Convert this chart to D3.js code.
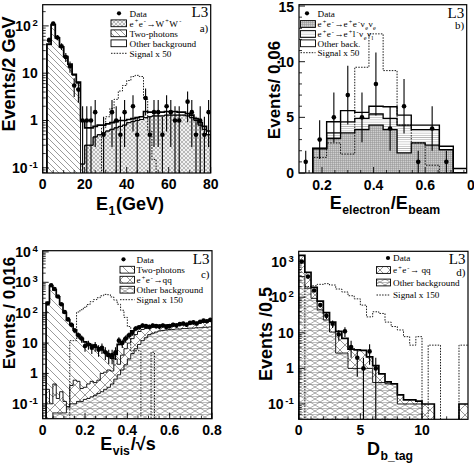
<!DOCTYPE html>
<html><head><meta charset="utf-8">
<script src="https://cdn.jsdelivr.net/npm/d3@7/dist/d3.min.js"></script>
<style>html,body{margin:0;padding:0;background:#fff}svg{display:block}</style>
</head><body>
<script>
// ================= DATA =================
// ---- panel a : E1 (GeV), 2 GeV bins ----
const aEdges = [0,2,4,6,8,10,12,14,16,18,20,22,24,26,28,30,32,34,36,38,40,42,44,46,48,50,52,54,56,58,60,62,64,66,68,70,72,74,76,78,80];
const aWW = [0,0,0,0,0,0,0,0,0,0.12,0.3,0.3,0.45,0.5,0.55,0.6,0.65,0.7,0.75,0.8,0.9,0.95,1.0,1.05,1.15,1.2,1.25,1.25,1.25,1.3,1.3,1.3,1.3,1.3,1.25,1.15,1.0,0.8,0.65,0.5];
const aTwoPhoton = [0,40,105,55,35,22,15,9,6,0,0,0,0,0,0,0,0,0,0,0,0,0,0,0,0,0,0,0,0,0,0,0,0,0,0,0,0,0,0,0];
const aOther = [0,1,2,1,1,0.5,0.5,0.5,0.5,0.88,0.4,0.4,0.3,0.3,0.25,0.25,0.25,0.25,0.25,0.2,0.15,0.15,0.15,0.15,0.4,0.3,0.25,0.25,0.25,0.25,0.25,0.25,0.2,0.2,0.15,0.15,0.1,0.1,0.1,0.1];
const aSignal = [0,0,0,0,0,0,0,0,0,0,0,0,0,0,0.7,1.2,1.8,2.8,4.2,5.5,7,8.5,9,8.5,2.8,0.6,0.15,0,0,0,0,0,0,0,0,0,0,0,0,0];
const aData = [0,50,112,57,37,22,14,5.5,4.5,1,1,1,1.5,0,0.5,0,1.5,1,0.5,1.5,0,2,0.5,0,3,0.5,1.5,1.5,0.5,2,1.5,1,1,0,2.5,1.5,0.5,1,0.5,1.5];
const aXTicks = [0,20,40,60,80];
const aYTicks = [0.1,1,10,100];
const aYLabels = ['10^{-1}','1','10','10^{2}'];

// ---- panel b : E_electron/E_beam ----
const bEdges = [0.164,0.218,0.272,0.327,0.382,0.437,0.491,0.546,0.600,0.655,0.709,0.763];
const bEeNuNu = [2.2,3.1,3.6,3.9,4.3,3.9,1.8,2.7,2.5,2.1,0];
const bElNuNu = [0,0.5,1.0,1.0,1.0,1.0,2.5,1.2,1.4,0,0];
const bOther  = [0,1.0,1.0,0.55,0.7,1.05,0.9,0.4,0.4,0.3,0.4];
const bSignal = [1.4,2.7,1.7,9.5,12.5,9.2,4.3,2.7,0.7,0,0];
const bDataX = [0.137,0.191,0.246,0.300,0.355,0.409,0.464,0.518,0.573,0.627,0.682];
const bData  = [1,3,5,7,5,8,4,6,1,4,1];
const bXTicks = [0.2,0.4,0.6,0.8];
const bYTicks = [0,5,10,15];

// ---- panel c : Evis/sqrt(s), 0.016 bins ----
const cEdges = [0,0.016,0.032,0.048,0.064,0.08,0.096,0.112,0.128,0.144,0.16,0.176,0.192,0.208,0.224,0.24,0.256,0.272,0.288,0.304,0.32,0.336,0.352,0.368,0.384,0.4,0.416,0.432,0.448,0.464,0.48,0.496,0.512,0.528,0.544,0.56,0.576,0.592,0.608,0.624,0.64,0.656,0.672,0.688,0.704,0.72,0.736,0.752,0.768,0.784,0.8];
const cOther = [0,0,0,0.05,0.05,0.05,0.05,0.08,0.1,0.1,0.12,0.12,0.14,0.15,0.17,0.19,0.22,0.25,0.3,0.35,0.45,0.65,0.9,1.3,1.9,3.0,4.5,6.5,9,12,15,19,21,23,25,26,27,28,28,29,29,30,30,31,31,32,32,33,33,34];
const cQQ = [0,0.3,0.1,0.4,0.1,0.2,0.07,0,0.3,0.5,0.43,0.2,0.21,0.3,0.38,0.31,0.38,0.75,0.8,0.95,0.75,2.35,1.1,2.7,4.6,7,9.5,12.5,15,16,15,13,12,12,10,10,9,9,9,9,10,10,11,11,12,12,14,15,17,18];
const cTwoPhoton = [0,220,750,560,330,190,100,57,39.6,26.4,18.4,13.7,10.6,9.0,8.0,7.0,6.4,5.0,3.9,2.5,2.0,1.2,7,7,7.5,8,11,11,11,8,6,5,4,3,3,3,3,3,3,3,3,3,3,3,3,3,3,3,3,3];
const cSignal = [0,0,0,0,0,0,0,0,12,12,105,125,150,185,230,270,310,360,400,390,330,260,190,120,70,35,5.6,5.6,5.6,0,0,0,5,0,0,0,0,0,0,0,0,0,0,0,0,0,0,0,0,0];
const cData = [0,200,800,600,340,190,105,60,40,26,18,14,8,9,7,8,6,7,5,4,4,5,12,10,14,18,22,30,33,38,36,34,38,36,35,38,34,36,40,38,42,44,40,46,48,44,50,55,52,58];
const cXTicks = [0,0.2,0.4,0.6,0.8];
const cXLabels = ['0','0.2','0.4','0.6','0.8'];
const cYTicks = [0.1,1,10,100,1000,10000];
const cYLabels = ['10^{-1}','1','10','10^{2}','10^{3}','10^{4}'];

// ---- panel d : D_b_tag, 0.5 bins ----
const dEdges = [0,0.5,1,1.5,2,2.5,3,3.5,4,4.5,5,5.5,6,6.5,7,7.5,8,8.5,9,9.5,10,10.5,11,11.5,12,12.5,13,13.5,14];
const dOther = [380,180,93,44,23,10.5,2.7,2.7,1.0,1.0,1.0,1.0,0.4,0.4,0.37,0.37,0.1,0.1,0.1,0.1,0,0,0,0,0,0,0,0];
const dQQ = [1120,320,97,34,14,9.5,8.3,4.3,2.5,2.3,2.2,1.1,0.8,0.3,0.05,0,0.08,0.03,0.03,0.02,0.1,0.1,0,0,0,0,0.1,0.1];
const dSignal = [0,200,210,230,240,220,170,140,110,90,60,28,39,35,20,15,12,7.8,4.5,7.8,0,4.5,4.5,0,0,0,4.5,4.5];
const dData = [1000,380,155,60,30,18,9,11,4,2,1,3,1];
const dXTicks = [0,5,10];
const dYTicks = [0.1,1,10,100,1000];
const dYLabels = ['10^{-1}','1','10','10^{2}','10^{3}'];

// ================= DRAWING =================
const SANS = "'Liberation Sans', Arial, Helvetica, sans-serif";
const SERIF = "'Liberation Serif', 'Times New Roman', Times, serif";
const LEGFS = 9.2;
const svg = d3.select('body').append('svg').attr('width',474).attr('height',464);
const defs = svg.append('defs');

function pattern(id, w, h, bg, d, stroke, sw) {
  const p = defs.append('pattern').attr('id',id).attr('patternUnits','userSpaceOnUse').attr('width',w).attr('height',h);
  p.append('rect').attr('width',w).attr('height',h).attr('fill',bg);
  p.append('path').attr('d',d).attr('stroke',stroke).attr('stroke-width',sw).attr('fill','none');
}
pattern('diagA',6,6,'#fff','M0,0L6,6M-1,5L1,7M5,-1L7,1','#555',0.6);
pattern('diagC',8,8,'#fff','M0,0L8,8M-1,7L1,9M7,-1L9,1','#555',0.6);
pattern('crossA',4,4,'#f2f2f2','M0,0L4,4M4,0L0,4','#808080',0.5);
pattern('crossD',10,10,'#fff','M0,0L10,10M10,0L0,10','#555',0.6);
pattern('brick',10,6,'#fff','M0,0L10,6M10,0L0,6M0,0.3H10','#666',0.55);
pattern('gridB',2,2,'#cfcfcf','M0,0.5H2M0.5,0V2','#8c8c8c',0.45);
pattern('hlineB',2,2.2,'#fff','M0,1.1H2','#a8a8a8',0.7);

function rich(sel, str, size) {
  const re = /(\^|_)\{([^}]*)\}|([^\^_]+)/g;
  let m, off = 0, prevSup = false;
  while ((m = re.exec(str))) {
    let target = 0, fs = size, t, dx = 0;
    if (m[1]) { t = m[2]; fs = size*0.68; target = m[1]==='^' ? -size*0.36 : size*0.3; dx = m[1]==='^' ? size*0.12 : 0.5; }
    else { t = m[3]; dx = prevSup ? size*0.05 : 0; }
    sel.append('tspan').attr('dy', target-off).attr('dx',dx).attr('font-size',fs).text(t);
    prevSup = !!m[1];
    off = target;
  }
}

function stepPts(edges, vals, xs, Y, base) {
  const pts = [[xs(edges[0]), base]];
  vals.forEach((v,i) => { pts.push([xs(edges[i]), Y(v)]); pts.push([xs(edges[i+1]), Y(v)]); });
  pts.push([xs(edges[vals.length]), base]);
  return pts;
}
function areaPts(edges, lo, hi, xs, Y) {
  const top = [], bot = [];
  hi.forEach((v,i) => { top.push([xs(edges[i]), Y(v)]); top.push([xs(edges[i+1]), Y(v)]); });
  lo.forEach((v,i) => { bot.push([xs(edges[i]), Y(v)]); bot.push([xs(edges[i+1]), Y(v)]); });
  return top.concat(bot.reverse());
}
const line = d3.line();

function drawPanel(P) {
  const xs = P.xs, ys = P.ys;
  const [x0, x1] = xs.range();
  const [y1, y0] = ys.range();
  const ymin = ys.domain()[0];
  const base = P.log ? y1 + 4 : ys(0);
  const Y = v => P.log ? (v > ymin ? ys(v) : y1 + 4) : ys(v);
  defs.append('clipPath').attr('id','clip'+P.id).append('rect')
    .attr('x',x0).attr('y',y0).attr('width',x1-x0).attr('height',y1-y0);
  const plot = svg.append('g').attr('clip-path',`url(#clip${P.id})`);

  // stack layers
  let lower = P.layers[0].values.map(() => 0);
  const cums = [];
  P.layers.forEach(L => {
    const upper = lower.map((l,i) => l + L.values[i]);
    cums.push({lower, upper, L});
    lower = upper;
  });
  cums.forEach(c => {
    if (c.L.fill) plot.append('path').attr('d', line(areaPts(P.edges, c.lower, c.upper, xs, Y)) + 'Z').attr('fill', c.L.fill);
  });
  cums.forEach((c,k) => {
    plot.append('path').attr('d', line(stepPts(P.edges, c.upper, xs, Y, base)))
      .attr('fill','none').attr('stroke','#000')
      .attr('stroke-width', k === cums.length-1 ? P.thick : P.thin);
  });
  // signal (dotted)
  plot.append('path').attr('d', line(stepPts(P.edges, P.signal, xs, Y, base)))
    .attr('fill','none').attr('stroke','#000').attr('stroke-width',0.9).attr('stroke-dasharray','1.5,1.3');
  // data points
  P.dataX.forEach((xv,i) => {
    const v = P.data[i];
    if (!(v > 0)) return;
    const e = Math.sqrt(v);
    const lo = v - e, hi = v + e;
    const ylo = P.log ? (lo > ymin ? ys(lo) : y1) : ys(Math.max(lo,0));
    plot.append('line').attr('x1',xs(xv)).attr('x2',xs(xv)).attr('y1',ylo).attr('y2',Y(hi))
      .attr('stroke','#000').attr('stroke-width',1.1);
    plot.append('circle').attr('cx',xs(xv)).attr('cy',Y(v)).attr('r',2.3).attr('fill','#000');
  });
  // frame
  const g = svg.append('g');
  g.append('rect').attr('x',x0).attr('y',y0).attr('width',x1-x0).attr('height',y1-y0)
    .attr('fill','none').attr('stroke','#000').attr('stroke-width',1.2);
  // x ticks
  P.xMinor.forEach(v => { if (v>=xs.domain()[0] && v<=xs.domain()[1]) g.append('line').attr('x1',xs(v)).attr('x2',xs(v)).attr('y1',y1).attr('y2',y1-3).attr('stroke','#000').attr('stroke-width',0.8); });
  P.xTicks.forEach((v,i) => {
    if (v>=xs.domain()[0]-1e-9 && v<=xs.domain()[1]+1e-9) g.append('line').attr('x1',xs(v)).attr('x2',xs(v)).attr('y1',y1).attr('y2',y1-6).attr('stroke','#000').attr('stroke-width',0.9);
    g.append('text').attr('x',xs(v)).attr('y',P.xLabelY).attr('text-anchor','middle')
      .attr('font-family',SANS).attr('font-weight','bold').attr('font-size',14).text(P.xLabels[i]);
  });
  // y ticks
  if (P.log) {
    const [lmin, lmax] = ys.domain().map(Math.log10);
    for (let d = Math.floor(lmin); d <= Math.ceil(lmax); d++) {
      for (let k = 2; k <= 9; k++) {
        const v = k * Math.pow(10, d);
        if (v >= ys.domain()[0] && v <= ys.domain()[1]) g.append('line').attr('x1',x0).attr('x2',x0+3).attr('y1',ys(v)).attr('y2',ys(v)).attr('stroke','#000').attr('stroke-width',0.8);
      }
    }
  } else {
    P.yMinor.forEach(v => g.append('line').attr('x1',x0).attr('x2',x0+3).attr('y1',ys(v)).attr('y2',ys(v)).attr('stroke','#000').attr('stroke-width',0.8));
  }
  P.yTicks.forEach((v,i) => {
    g.append('line').attr('x1',x0).attr('x2',x0+6).attr('y1',ys(v)).attr('y2',ys(v)).attr('stroke','#000').attr('stroke-width',0.9);
    const t = g.append('text').attr('x',x0-5).attr('y',Math.max(ys(v)+5, 11.5)).attr('text-anchor','end')
      .attr('font-family',SANS).attr('font-weight','bold').attr('font-size',14);
    rich(t, P.yLabels[i], 14);
  });
  // axis titles
  const yt = g.append('text').attr('transform',`translate(${P.yTitlePos[0]},${P.yTitlePos[1]}) rotate(-90)`)
    .attr('text-anchor','middle').attr('font-family',SANS).attr('font-weight','bold').attr('font-size',P.yTitleSize);
  rich(yt, P.yTitle, P.yTitleSize);
  const xt = g.append('text').attr('x',P.xTitlePos[0]).attr('y',P.xTitlePos[1])
    .attr('text-anchor','middle').attr('font-family',SANS).attr('font-weight','bold').attr('font-size',18);
  rich(xt, P.xTitle, 18);
  // L3 and panel tag
  g.append('text').attr('x',x1-2.5).attr('y',P.l3Y).attr('text-anchor','end').attr('font-family',SERIF).attr('font-size',15).text('L3');
  g.append('text').attr('x',x1-2.5).attr('y',P.tagY).attr('text-anchor','end').attr('font-family',SERIF).attr('font-size',11).text(P.tag);
  // legend
  const Lg = P.legend;
  Lg.rows.forEach((r,i) => {
    const cy = Lg.ys[i];
    if (r.type === 'data') {
      g.append('circle').attr('cx',Lg.mx).attr('cy',cy).attr('r',2.1).attr('fill','#000');
    } else if (r.type === 'box') {
      g.append('rect').attr('x',Lg.bx).attr('y',cy-3.4).attr('width',Lg.bw).attr('height',6.8)
        .attr('fill',r.fill).attr('stroke','#000').attr('stroke-width',0.9);
    } else {
      g.append('line').attr('x1',Lg.bx).attr('x2',Lg.bx+Lg.bw).attr('y1',cy).attr('y2',cy)
        .attr('stroke','#000').attr('stroke-width',0.9).attr('stroke-dasharray','1.5,1.3');
    }
    const t = g.append('text').attr('x',Lg.tx).attr('y',cy+3.2).attr('font-family',SERIF).attr('font-size',LEGFS);
    rich(t, r.label, LEGFS);
  });
}

const centers = e => e.slice(0,-1).map((v,i) => (v + e[i+1]) / 2);

// ---- panel a ----
drawPanel({
  id:'a', log:true,
  xs: d3.scaleLinear([0,80],[42.7,210.7]),
  ys: d3.scaleLog([Math.pow(10,-1.11), Math.pow(10,2.448)],[173,4.7]),
  edges: aEdges,
  layers: [{values:aWW, fill:'url(#crossA)'},{values:aTwoPhoton, fill:'url(#diagA)'},{values:aOther, fill:null}],
  thin:0.9, thick:1.7,
  signal: aSignal, dataX: centers(aEdges), data: aData,
  xTicks: aXTicks, xLabels: aXTicks.map(String), xMinor:[5,10,15,25,30,35,45,50,55,65,70,75], xLabelY:189,
  yTicks: aYTicks, yLabels: aYLabels,
  yTitle:'Events/2 GeV', yTitleSize:18, yTitlePos:[15,74],
  xTitle:'E_{1}(GeV)', xTitlePos:[130,210],
  l3Y:16.5, tagY:32, tag:'a)',
  legend:{mx:119,bx:111,bw:15.5,tx:129.5,ys:[13.3,23.3,33.3,43.3,53.3],
    rows:[{type:'data',label:'Data'},{type:'box',fill:'url(#crossA)',label:'e^{+}e^{-}→W^{+}W^{-}'},
          {type:'box',fill:'url(#diagA)',label:'Two-photons'},{type:'box',fill:'#fff',label:'Other background'},
          {type:'sig',label:'Signal x 50'}]}
});

// ---- panel b ----
drawPanel({
  id:'b', log:false,
  xs: d3.scaleLinear([0.1109,0.7609],[299,466.7]),
  ys: d3.scaleLinear([0,15.12],[173,4.7]),
  edges: bEdges,
  layers: [{values:bEeNuNu, fill:'url(#gridB)'},{values:bElNuNu, fill:'url(#hlineB)'},{values:bOther, fill:null}],
  thin:1.3, thick:1.4,
  signal: bSignal, dataX: bDataX, data: bData,
  xTicks: bXTicks, xLabels: bXTicks.map(v => v.toFixed(1)), xMinor:[0.15,0.25,0.3,0.35,0.45,0.5,0.55,0.65,0.7,0.75], xLabelY:190,
  yTicks: bYTicks, yLabels: bYTicks.map(String), yMinor:[1,2,3,4,6,7,8,9,11,12,13,14],
  yTitle:'Events/ 0.06', yTitleSize:17, yTitlePos:[280,90],
  xTitle:'E_{electron}/E_{beam}', xTitlePos:[385,209],
  l3Y:17.5, tagY:29, tag:'b)',
  legend:{mx:307,bx:300.5,bw:15,tx:317.5,ys:[13.3,24,34,43.3,52.7],
    rows:[{type:'data',label:'Data'},{type:'box',fill:'url(#gridB)',label:'e^{+}e^{-}→e^{+}e^{-}ν_{e}ν_{e}'},
          {type:'box',fill:'url(#hlineB)',label:'e^{+}e^{-}→e^{+}l^{-}ν_{e}ν_{l}'},{type:'box',fill:'#fff',label:'Other back.'},
          {type:'sig',label:'Signal x 50'}]}
});

// ---- panel c ----
drawPanel({
  id:'c', log:true,
  xs: d3.scaleLinear([0,0.8],[42.7,212]),
  ys: d3.scaleLog([Math.pow(10,-1.49), Math.pow(10,4.04)],[418.7,250.7]),
  edges: cEdges,
  layers: [{values:cOther, fill:'url(#brick)'},{values:cQQ, fill:'url(#crossD)'},{values:cTwoPhoton, fill:'url(#diagC)'}],
  thin:0.9, thick:1.7,
  signal: cSignal, dataX: centers(cEdges), data: cData,
  xTicks: cXTicks, xLabels: cXLabels, xMinor:[0.05,0.1,0.15,0.25,0.3,0.35,0.45,0.5,0.55,0.65,0.7,0.75], xLabelY:435,
  yTicks: cYTicks, yLabels: cYLabels,
  yTitle:'Events / 0.016', yTitleSize:17, yTitlePos:[15,313],
  xTitle:'E_{vis}/√s', xTitlePos:[128,450],
  l3Y:263.5, tagY:277.5, tag:'c)',
  legend:{mx:123.5,bx:120,bw:14.5,tx:136.5,ys:[259.3,269.7,279.7,289.7,299.7],
    rows:[{type:'data',label:'Data'},{type:'box',fill:'url(#diagC)',label:'Two-photons'},
          {type:'box',fill:'url(#crossD)',label:'e^{+}e^{-}→qq'},{type:'box',fill:'url(#brick)',label:'Other background'},
          {type:'sig',label:'Signal x 150'}]}
});

// ---- panel d ----
drawPanel({
  id:'d', log:true,
  xs: d3.scaleLinear([0,13.73],[298.7,468]),
  ys: d3.scaleLog([Math.pow(10,-1.43), Math.pow(10,3.29)],[419.3,251.3]),
  edges: dEdges,
  layers: [{values:dOther, fill:'url(#brick)'},{values:dQQ, fill:'url(#crossD)'}],
  thin:0.9, thick:1.7,
  signal: dSignal, dataX: centers(dEdges).slice(0, dData.length), data: dData,
  xTicks: dXTicks, xLabels: dXTicks.map(String), xMinor:[1,2,3,4,6,7,8,9,11,12,13], xLabelY:435,
  yTicks: dYTicks, yLabels: dYLabels,
  yTitle:'Events /0.5', yTitleSize:18, yTitlePos:[272,334],
  xTitle:'D_{b_tag}', xTitlePos:[390,455],
  l3Y:264, tagY:276, tag:'d)',
  legend:{mx:388,bx:376.5,bw:14,tx:393,ys:[258,270,282.5,295],
    rows:[{type:'data',label:'Data'},{type:'box',fill:'url(#crossD)',label:'e^{+}e^{-}→ qq'},
          {type:'box',fill:'url(#brick)',label:'Other background'},{type:'sig',label:'Signal x 150'}]}
});
</script>
</body></html>
